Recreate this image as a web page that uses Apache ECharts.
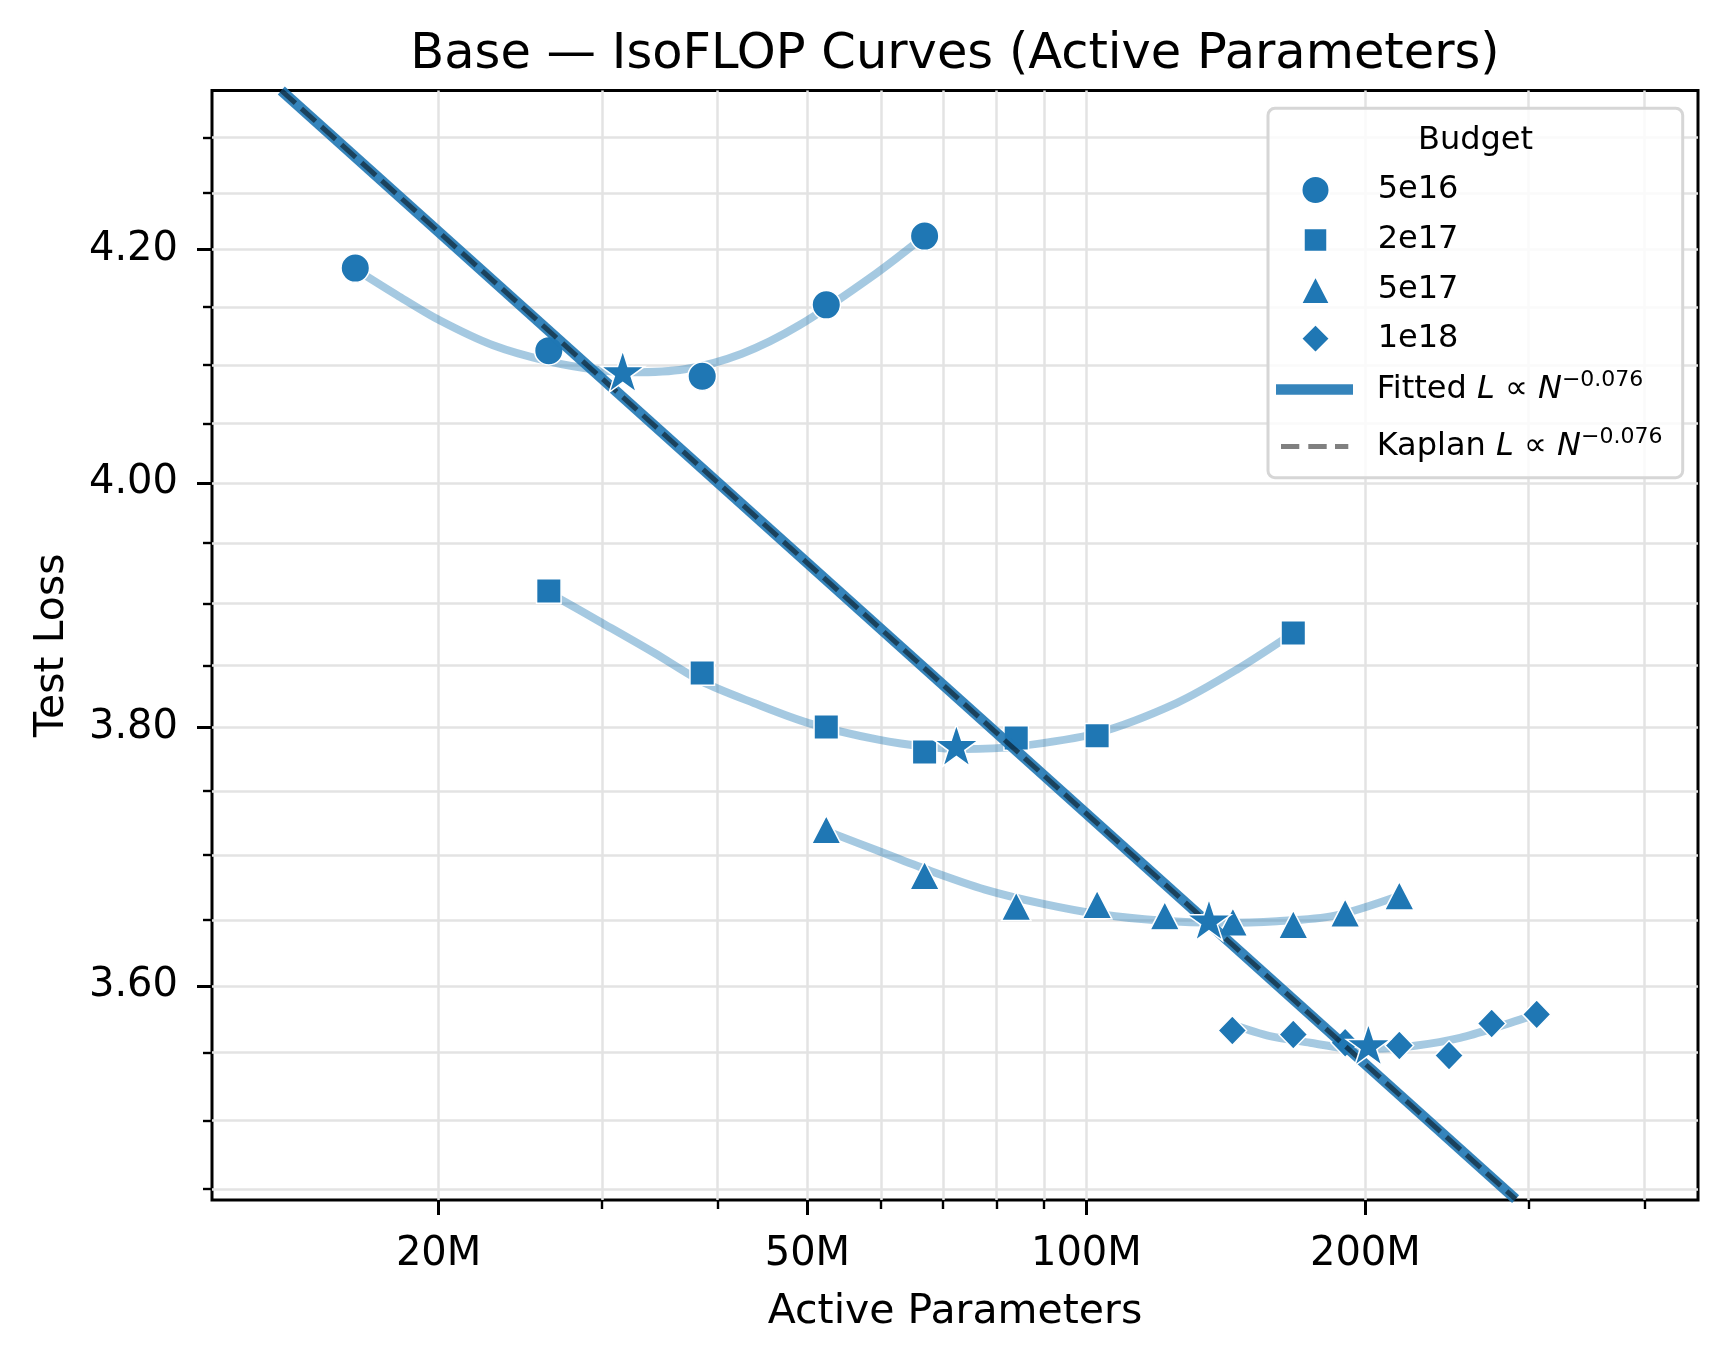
<!DOCTYPE html>
<html><head><meta charset="utf-8">
<script src="https://cdn.jsdelivr.net/npm/echarts@6/dist/echarts.min.js"></script>
<style>html,body{margin:0;padding:0;background:#fff}#c{width:1728px;height:1361px}</style>
</head><body><div id="c"></div>
<script>
// ---------- data ----------
const budgets = ['5e16', '2e17', '5e17', '1e18'];
const pts5e16 = [[16.26e6, 4.1839], [26.3e6, 4.1122], [38.5e6, 4.0902], [52.4e6, 4.1518], [66.9e6, 4.2120]];
const pts2e17 = [[26.3e6, 3.9103], [38.5e6, 3.8437], [52.4e6, 3.8006], [66.9e6, 3.7807], [84.0e6, 3.7918], [102.7e6, 3.7936], [167.2e6, 3.8761]];
const pts5e17 = [[52.4e6, 3.7198], [66.9e6, 3.6842], [84.0e6, 3.6606], [102.7e6, 3.6619], [121.5e6, 3.6534], [143.9e6, 3.6486], [167.2e6, 3.6466], [190.2e6, 3.6555], [217.6e6, 3.6687]];
const pts1e18 = [[143.7e6, 3.5666], [167.2e6, 3.5636], [190.2e6, 3.5574], [217.6e6, 3.5554], [246.2e6, 3.5479], [273.7e6, 3.5718], [306.1e6, 3.5786]];
const optima = [[31.6e6, 4.0944], [72.4e6, 3.7860], [135.6e6, 3.6503], [201.5e6, 3.5561]];

const curve5e16 = [[16.26e6, 4.1830], [18.05e6, 4.1601], [20.05e6, 4.1384], [22.9e6, 4.1168], [26.28e6, 4.1030], [29.88e6, 4.0953], [32.25e6, 4.0936], [36.84e6, 4.0962], [42.48e6, 4.1096], [48.99e6, 4.1341], [59.26e6, 4.1790], [66.9e6, 4.2120]];
const curve2e17 = [[26.3e6, 3.9090], [30.02e6, 3.8843], [34.19e6, 3.8599], [38.45e6, 3.8370], [43.77e6, 3.8197], [50.15e6, 3.8037], [59.62e6, 3.7905], [67.47e6, 3.7847], [73.56e6, 3.7831], [84.26e6, 3.7852], [102.7e6, 3.7958], [125.1e6, 3.8197], [145.2e6, 3.8464], [167.2e6, 3.8761]];
const curve5e17 = [[52.4e6, 3.7188], [59.88e6, 3.7027], [67.25e6, 3.6888], [77.74e6, 3.6734], [89.86e6, 3.6624], [103.9e6, 3.6542], [120.1e6, 3.6496], [138.9e6, 3.6479], [160.5e6, 3.6491], [185.5e6, 3.6534], [217.6e6, 3.6686]];
const curve1e18 = [[143.7e6, 3.5710], [157.8e6, 3.5623], [174.3e6, 3.5574], [189.3e6, 3.5537], [205.7e6, 3.5530], [227.2e6, 3.5554], [253.0e6, 3.5611], [279.4e6, 3.5698], [306.1e6, 3.5788]];

const fittedLine = [[13.53e6, 4.3424], [290.5e6, 3.4428]];
const kaplanLine = [[13.53e6, 4.3424], [290.5e6, 3.4428]];

const xRange = [11.39e6, 457e6];
const yRange = [3.4422, 4.3424];
const xMajorTicks = [2e7, 5e7, 1e8, 2e8];
const xMinorTicks = [3e7, 4e7, 6e7, 7e7, 8e7, 9e7, 3e8, 4e8];
const yMajorTicks = [3.6, 3.8, 4.0, 4.2];
const yMinorTicks = [3.45, 3.5, 3.55, 3.65, 3.7, 3.75, 3.85, 3.9, 3.95, 4.05, 4.1, 4.15, 4.25, 4.3];

const titleText = 'Base — IsoFLOP Curves (Active Parameters)';
const xName = 'Active Parameters';
const yName = 'Test Loss';
const legendTitle = 'Budget';

// ---------- styles ----------
const FONT = 'DejaVu Sans';
const C0 = '#1f77b4';
const gridColor = '#e3e3e3';
const STAR = 'path://M20 0L24.49 13.82L39.02 13.82L27.27 22.36L31.76 36.18L20 27.64L8.24 36.18L12.73 22.36L0.98 13.82L15.51 13.82Z';
const DASH_ICON = 'path://M0 0H18.3V5H0Z M27.3 0H45.7V5H27.3Z M54 0H67.3V5H54Z';

function axisCommon(range, pos) {
  return {
    type: 'log', logBase: 10, min: range[0], max: range[1], position: pos, gridIndex: 0,
    axisLine: { show: false }, minorTick: { show: false }, minorSplitLine: { show: false }
  };
}
function majorAxis(range, pos, ticks, fmt, margin, name, nameGap, labelPad) {
  return Object.assign(axisCommon(range, pos), {
    axisTick: { show: true, customValues: ticks, length: 15, lineStyle: { color: '#000', width: 3 } },
    axisLabel: { show: true, customValues: ticks, formatter: fmt, margin: margin, fontSize: 40, color: '#000', fontFamily: FONT, padding: labelPad },
    splitLine: { show: true, customValues: ticks, lineStyle: { color: gridColor, width: 2.5 } },
    name: name, nameLocation: 'middle', nameGap: nameGap,
    nameTextStyle: { fontSize: 41, color: '#000', fontFamily: FONT }
  });
}
function minorAxis(range, pos, ticks) {
  return Object.assign(axisCommon(range, pos), {
    axisTick: { show: true, customValues: ticks, length: 9, lineStyle: { color: '#000', width: 2.4 } },
    axisLabel: { show: false, customValues: ticks },
    splitLine: { show: true, customValues: ticks, lineStyle: { color: gridColor, width: 2.5 } }
  });
}

function curveSeries(name, data) {
  return { name: name, type: 'line', data: data, smooth: 0.3, symbol: 'none', silent: true, z: 2,
    lineStyle: { color: 'rgba(31,119,180,0.4)', width: 8, cap: 'butt' }, animation: false };
}
function scatterSeries(name, data, symbol, size) {
  return { name: name, type: 'scatter', data: data, symbol: symbol, symbolSize: size, silent: true, z: 3,
    itemStyle: { color: C0, borderColor: '#fff', borderWidth: 1.5, opacity: 1 }, animation: false };
}

const DY = 3.3;               // vertical nudge of legend rows
const HANDLE_CX = 1314.5;     // centre of legend handles
const TEXT_X = 1376.7;        // left edge of legend texts
const richText = {
  i: { fontSize: 32, fontStyle: 'italic', fontFamily: FONT, lineHeight: 32, color: '#000', verticalAlign: 'middle' },
  s: { fontSize: 22, fontFamily: FONT, lineHeight: 22, color: '#000', padding: [0, 0, 18, 0], verticalAlign: 'middle' }
};
function legendTextStyle(left, w, rich) {
  const t = { fontSize: 32, color: '#000', fontFamily: FONT, lineHeight: 32, padding: [0, 0, 0, TEXT_X - (left + w + 5)] };
  if (rich) t.rich = rich;
  return t;
}
function scatterLegend(name, icon, w, h, centerY) {
  const left = HANDLE_CX - w / 2;
  return { data: [{ name: name, icon: icon }], orient: 'vertical', left: left, top: centerY - 16 + DY,
    itemWidth: w, itemHeight: h, padding: 0, symbolKeepAspect: false, textStyle: legendTextStyle(left, w), z: 5, selectedMode: false };
}

const option = {
  animation: false,
  backgroundColor: '#fff',
  textStyle: { fontFamily: FONT },
  grid: { left: 212, top: 90.5, width: 1486, height: 1109.5, show: true, borderColor: '#000', borderWidth: 3,
    backgroundColor: 'rgba(0,0,0,0)', containLabel: false, outerBoundsMode: 'none' },
  xAxis: [
    majorAxis(xRange, 'bottom', xMajorTicks, v => Math.round(v / 1e6) + 'M', 34.3, xName, 92, 0),
    minorAxis(xRange, 'bottom', xMinorTicks)
  ],
  yAxis: [
    majorAxis(yRange, 'left', yMajorTicks, v => v.toFixed(2), 34, yName, 139.6, [3, 0, 0, 0]),
    minorAxis(yRange, 'left', yMinorTicks)
  ],
  legend: [
    scatterLegend(budgets[0], 'circle', 28, 28, 186.7),
    scatterLegend(budgets[1], 'rect', 23.5, 23.5, 236.7),
    scatterLegend(budgets[2], 'triangle', 29, 28, 286.7),
    scatterLegend(budgets[3], 'diamond', 28.5, 28.5, 335.3),
    { data: [{ name: 'Fitted', icon: 'rect', itemStyle: { color: 'rgba(31,119,180,0.9)' } }], orient: 'vertical',
      left: 1276, top: 386.3 - 20 + DY, itemWidth: 77, itemHeight: 10.5, padding: 0, symbolKeepAspect: false,
      formatter: 'Fitted {i|L} ∝ {i|N}{s|−0.076}', textStyle: legendTextStyle(1276, 77, richText), z: 5, selectedMode: false },
    { data: [{ name: 'Kaplan', icon: DASH_ICON, itemStyle: { color: '#808080' } }], orient: 'vertical',
      left: 1281, top: 443.3 - 20 + DY, itemWidth: 67.3, itemHeight: 5, padding: 0, symbolKeepAspect: false,
      formatter: 'Kaplan {i|L} ∝ {i|N}{s|−0.076}', textStyle: legendTextStyle(1281, 67.3, richText), z: 5, selectedMode: false }
  ],
  graphic: [
    { type: 'text', x: 955, y: 55.3, z: 10, style: { text: titleText, font: 'normal 49.5px "DejaVu Sans"', fill: '#000', align: 'center', verticalAlign: 'middle' } },
    { type: 'rect', z: 3, shape: { x: 1268, y: 108.3, width: 414.7, height: 369.4, r: 7 }, style: { fill: 'rgba(255,255,255,0.8)', stroke: '#d6d6d6', lineWidth: 3 } },
    { type: 'text', x: 1475.5, y: 140.3, z: 10, style: { text: legendTitle, font: 'normal 32px "DejaVu Sans"', fill: '#000', align: 'center', verticalAlign: 'middle' } }
  ],
  series: [
    curveSeries('fit ' + budgets[0], curve5e16),
    curveSeries('fit ' + budgets[1], curve2e17),
    curveSeries('fit ' + budgets[2], curve5e17),
    curveSeries('fit ' + budgets[3], curve1e18),
    scatterSeries(budgets[0], pts5e16, 'circle', 28.5),
    scatterSeries(budgets[1], pts2e17, 'rect', 24.5),
    scatterSeries(budgets[2], pts5e17, 'triangle', [29.5, 28.5]),
    scatterSeries(budgets[3], pts1e18, 'diamond', [28.5, 29.5]),
    { name: 'Fitted', type: 'line', data: fittedLine, symbol: 'none', silent: true, z: 4, color: 'rgba(31,119,180,0.9)',
      lineStyle: { color: 'rgba(31,119,180,0.9)', width: 10.5, cap: 'butt' }, animation: false },
    { name: 'Kaplan', type: 'line', data: kaplanLine, symbol: 'none', silent: true, z: 5, color: 'rgba(0,0,0,0.5)',
      lineStyle: { color: 'rgba(0,0,0,0.5)', width: 5, type: [19, 8], cap: 'butt' }, animation: false },
    { name: 'optimum', type: 'scatter', data: optima, symbol: STAR, symbolSize: [44, 42], silent: true, z: 6,
      itemStyle: { color: C0, borderColor: '#fff', borderWidth: 1.5, opacity: 1 }, animation: false }
  ]
};
const chart = echarts.init(document.getElementById('c'), null, { renderer: 'canvas' });
chart.setOption(option);
</script>
</body></html>
